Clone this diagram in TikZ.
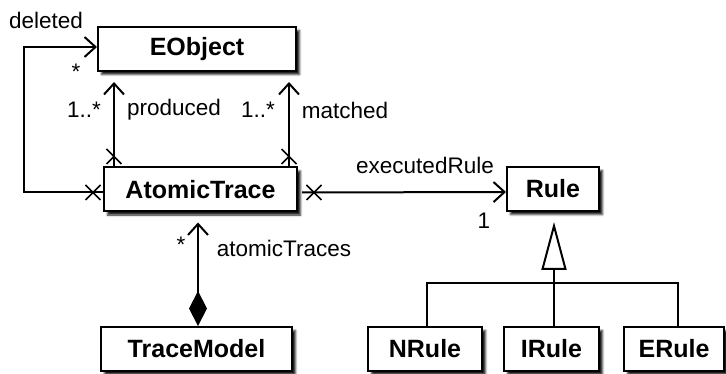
\documentclass[tikz,border=0pt]{standalone}
\usepackage{fontspec}
\setmainfont{Liberation Sans}
\usetikzlibrary{arrows.meta,shadows.blur,decorations.markings}

\begin{document}
\begin{tikzpicture}[
  x=1pt, y=-1pt,
  cls/.style={draw, line width=2pt, fill=white, minimum height=44pt, inner sep=0pt,
    font=\fontsize{25}{30}\selectfont\bfseries,
    blur shadow={shadow xshift=3.5pt, shadow yshift=-3.5pt, shadow blur radius=2pt, shadow opacity=90}},
  lbl/.style={font=\fontsize{22.5}{27}\selectfont, inner sep=0pt},
  assoc/.style={line width=2pt, -{Straight Barb[length=11pt, width=20pt]}},
  comp/.style={line width=2pt, {Diamond[length=35pt, width=18pt]}-{Straight Barb[length=11pt, width=20pt]}},
  gen/.style={line width=2pt, -{Triangle[open, length=48pt, width=25pt, fill=white]}},
  xmark/.style={postaction={decorate, decoration={markings,
    mark=at position #1 with {\draw[line width=1.6pt, -] (-7.5pt,-7.5pt) -- (7.5pt,7.5pt) (-7.5pt,7.5pt) -- (7.5pt,-7.5pt);}}}},
  xmark/.default=10pt
]
\useasboundingbox (0,0) rectangle (726,374);

% classes
\node[cls, minimum width=198pt] (eobj) at (197,49) {EObject};
\node[cls, minimum width=193pt] (atrace) at (200.5,189.5) {AtomicTrace};
\node[cls, minimum width=92pt] (rule) at (553,189) {Rule};
\node[cls, minimum width=191pt] (tmodel) at (196.5,349) {TraceModel};
\node[cls, minimum width=114pt] (nrule) at (425,349) {NRule};
\node[cls, minimum width=95pt] (irule) at (551.5,349) {IRule};
\node[cls, minimum width=100pt] (erule) at (674,349) {ERule};

% associations
\draw[assoc, xmark] ([yshift=-3pt]atrace.west) -- ++(-79,0) |- ([yshift=2pt]eobj.west);
\draw[assoc, xmark, shorten >=10pt] ([xshift=11pt]atrace.north west) -- ([xshift=17pt]eobj.south west);
\draw[assoc, xmark, shorten >=10pt] ([xshift=-9pt]atrace.north east) -- ([xshift=-8pt]eobj.south east);
\draw[assoc, xmark=12pt] ([xshift=4pt, yshift=-3pt]atrace.east) -- ([yshift=-3pt]rule.west);
\draw[comp, shorten >=10pt] ([xshift=1.5pt]tmodel.north) -- ([xshift=-2.5pt]atrace.south);

% inheritance
\coordinate (bus) at (554,283);
\draw[gen, shorten >=10pt] ([xshift=2.5pt]irule.north) -- ([xshift=1pt]rule.south);
\draw[line width=2pt] ([xshift=2pt]nrule.north) |- (bus) -| ([xshift=4pt]erule.north);

% role names and multiplicities
\node[lbl] (ldel) at (46,20) {deleted};
\node[lbl] (mdel) at (76,72) {*};
\node[lbl] (mprod) at (84,110) {1..*};
\node[lbl] (lprod) at (174,110) {produced};
\node[lbl] (mmatch) at (258,110) {1..*};
\node[lbl] (lmatch) at (345,110) {matched};
\node[lbl] (lexec) at (425,165) {executedRule};
\node[lbl] (mexec) at (484,221) {1};
\node[lbl] (matom) at (181,245) {*};
\node[lbl] (latom) at (284,248) {atomicTraces};
\end{tikzpicture}
\end{document}
